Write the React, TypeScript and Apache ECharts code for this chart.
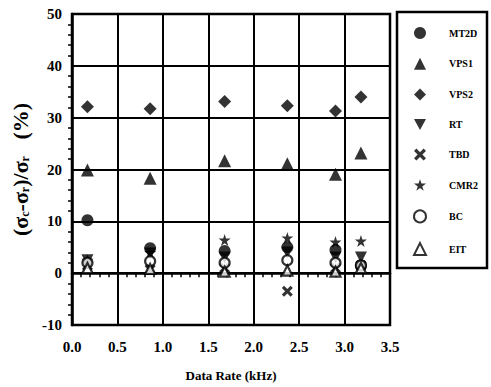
import React, { useEffect, useRef } from "react";
import * as echarts from "echarts";

const rates = [0.17, 0.86, 1.68, 2.37, 2.9, 3.18];
const seriesNames = ["MT2D", "VPS1", "VPS2", "RT", "TBD", "CMR2", "BC", "EIT"];
const mt2d = [10.2, 4.8, 4.3, 5.0, 4.5, 1.5];
const vps1 = [19.9, 18.3, 21.7, 21.1, 19.1, 23.2];
const vps2 = [32.1, 31.7, 33.1, 32.3, 31.3, 34.0];
const rt = [2.5, 3.8, 3.0, 4.0, 3.0, 3.0];
const tbd = [1.5, 0.7, 1.0, -3.5, 1.0, 1.5];
const cmr2 = [2.5, 4.0, 6.4, 6.8, 6.0, 6.2];
const bc = [2.0, 2.3, 2.0, 2.5, 2.0, 1.5];
const eit = [1.0, 0.8, 0.3, 0.5, 0.3, 1.0];
const xTicks = ["0.0", "0.5", "1.0", "1.5", "2.0", "2.5", "3.0", "3.5"];

const FONT = "Liberation Serif";

const INV_TRI = "path://M0,0L10,0L5,9Z";
const CROSS = "path://M2,0L5,3L8,0L10,2L7,5L10,8L8,10L5,7L2,10L0,8L3,5L0,2Z";
const STAR = "path://M5,0L6.2,3.6L10,3.6L6.9,5.9L8.1,9.5L5,7.3L1.9,9.5L3.1,5.9L0,3.6L3.8,3.6Z";

export default function App() {
  const ref = useRef<HTMLDivElement>(null);
  useEffect(() => {
    if (!ref.current) return;
    const chart = echarts.init(ref.current, undefined, { renderer: "svg" });
    const toPts = (vals: number[]) => vals.map((v, i) => [rates[i], v]);
    const mk = (name: string, vals: number[], symbol: string, size: number, hollow = false) => ({
      name,
      type: "scatter",
      data: toPts(vals),
      symbol,
      symbolSize: size,
      itemStyle: hollow
        ? { color: "#fff", borderColor: "#000", borderWidth: 2.2 }
        : { color: "#000" },
      emphasis: { disabled: true },
    });
    const option: any = {
      animation: false,
      backgroundColor: "#fff",
      grid: {
        left: 72,
        right: 101,
        top: 14,
        bottom: 62,
        show: true,
        borderColor: "#000",
        borderWidth: 2.5,
      },
      xAxis: {
        type: "value",
        min: 0,
        max: 3.5,
        interval: 0.5,
        name: "Data Rate (kHz)",
        nameLocation: "middle",
        nameGap: 44,
        nameTextStyle: { fontFamily: FONT, fontWeight: "bold", fontSize: 13, color: "#000" },
        axisLine: { lineStyle: { color: "#000", width: 2.5 } },
        axisTick: { show: false },
        minorTick: { show: true, splitNumber: 5, length: 4, lineStyle: { color: "#000", width: 1.5 } },
        axisLabel: {
          formatter: (v: number) => xTicks[Math.round(v / 0.5)] ?? "",
          fontFamily: FONT,
          fontWeight: "bold",
          fontSize: 15,
          color: "#000",
          margin: 14,
        },
        splitLine: { show: true, lineStyle: { color: "#000", width: 2 } },
      },
      yAxis: {
        type: "value",
        min: -10,
        max: 50,
        interval: 10,
        name: "{p|(σ}{s|c}{p|-σ}{s|r}{p|)/σ}{s|r}{p|   (%)}",
        nameLocation: "middle",
        nameGap: 32,
        nameRotate: 90,
        nameTextStyle: {
          fontFamily: FONT,
          fontWeight: "bold",
          color: "#000",
          rich: {
            p: { fontFamily: FONT, fontWeight: "bold", fontSize: 22, color: "#000" },
            s: { fontFamily: FONT, fontWeight: "bold", fontSize: 12, color: "#000", verticalAlign: "bottom" },
          },
        },
        axisLine: { lineStyle: { color: "#000", width: 2.5 } },
        axisTick: { show: false },
        minorTick: { show: true, splitNumber: 5, length: 4, lineStyle: { color: "#000", width: 1.5 } },
        axisLabel: {
          fontFamily: FONT,
          fontWeight: "bold",
          fontSize: 15,
          color: "#000",
          margin: 10,
        },
        splitLine: { show: true, lineStyle: { color: "#000", width: 2 } },
      },
      legend: {
        orient: "vertical",
        left: 408,
        top: 22,
        itemWidth: 12,
        itemHeight: 12,
        itemGap: 18.7,
        data: seriesNames,
        textStyle: {
          fontFamily: FONT,
          fontWeight: "bold",
          fontSize: 10,
          color: "#000",
          padding: [0, 0, 0, 18],
        },
      },
      graphic: [
        {
          type: "rect",
          shape: { x: 397, y: 12, width: 90, height: 256 },
          style: { fill: "none", stroke: "#000", lineWidth: 2.5 },
          silent: true,
        },
      ],
      series: [
        mk("MT2D", mt2d, "circle", 12),
        mk("VPS1", vps1, "triangle", 13),
        mk("VPS2", vps2, "diamond", 13),
        mk("RT", rt, INV_TRI, 12),
        mk("TBD", tbd, CROSS, 11),
        mk("CMR2", cmr2, STAR, 12),
        mk("BC", bc, "circle", 10, true),
        mk("EIT", eit, "triangle", 10, true),
      ],
    };
    chart.setOption(option);
    return () => chart.dispose();
  }, []);
  return <div ref={ref} style={{ width: 491, height: 387, position: "absolute", left: 0, top: 0 }} />;
}
